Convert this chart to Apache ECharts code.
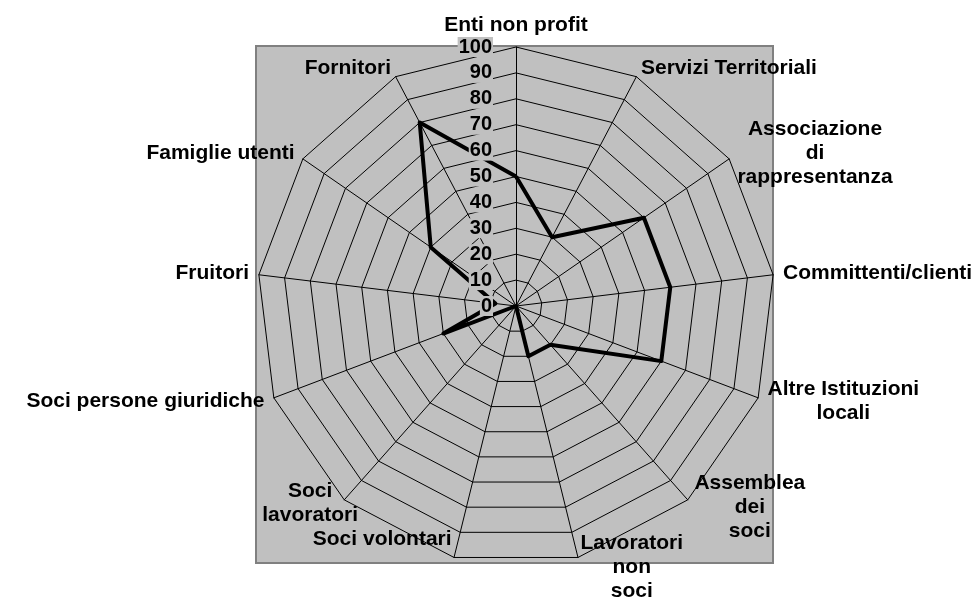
<!DOCTYPE html>
<html>
<head>
<meta charset="utf-8">
<script src="https://cdn.jsdelivr.net/npm/echarts@6/dist/echarts.min.js"></script>
<style>
html, body { margin: 0; padding: 0; background: #fff; }
#chart { width: 976px; height: 598px; }
</style>
</head>
<body>
<div id="chart"></div>
<script>
// stakeholder axes, clockwise from the top
var categories = [
  'Enti non profit', 'Servizi Territoriali', 'Associazione\ndi\nrappresentanza',
  'Committenti/clienti', 'Altre Istituzioni\nlocali', 'Assemblea\ndei\nsoci',
  'Lavoratori\nnon\nsoci', 'Soci volontari', 'Soci\nlavoratori',
  'Soci persone giuridiche', 'Fruitori', 'Famiglie utenti', 'Fornitori'
];
var values = [50, 30, 60, 60, 60, 20, 20, 0, 0, 30, 8, 40, 80];
var axisMin = 0;
var axisMax = 100;
var ringCount = 10;

var font = 'Liberation Sans';

// nudges for the two bottom-left names, which excel moved off the default spot
var nameTweaks = {
  'Soci volontari': { padding: [0, 0, 56, 0] },
  'Soci\nlavoratori': { align: 'center', padding: [0, 55, 8, 0] }
};

// echarts lays indicators out counter-clockwise, so keep the first
// and reverse the rest to get the clockwise order of the original
var order = [0];
for (var k = categories.length - 1; k > 0; k--) order.push(k);

var indicators = order.map(function (i, pos) {
  var name = categories[i];
  var ind = { name: name, min: axisMin, max: axisMax, axisLabel: { show: pos === 0 } };
  if (nameTweaks[name]) ind.nameTextStyle = nameTweaks[name];
  return ind;
});
var orderedValues = order.map(function (i) { return values[i]; });

var chart = echarts.init(document.getElementById('chart'));

chart.setOption({
  animation: false,
  graphic: [{
    type: 'rect',
    z: -100,
    silent: true,
    shape: { x: 256, y: 46, width: 517, height: 517 },
    style: { fill: '#c0c0c0', stroke: '#808080', lineWidth: 2 }
  }],
  radar: {
    z: 3,
    center: [516, 306],
    radius: 259,
    startAngle: 90,
    shape: 'polygon',
    splitNumber: ringCount,
    axisNameGap: 10,
    axisName: {
      color: '#000',
      fontFamily: font,
      fontSize: 21,
      fontWeight: 'bold',
      formatter: function (name) {
        return name.split('\n').map(function (s) { return '{c|' + s + '}'; }).join('\n');
      },
      rich: {
        c: { align: 'center', color: '#000', fontFamily: font, fontSize: 21, fontWeight: 'bold', lineHeight: 24 }
      }
    },
    axisLine: { lineStyle: { color: '#000', width: 1 } },
    splitLine: { lineStyle: { color: '#000', width: 1 } },
    splitArea: { show: false },
    axisTick: { show: false },
    axisLabel: {
      show: false,
      color: '#000',
      fontFamily: font,
      fontSize: 20,
      fontWeight: 'bold',
      backgroundColor: '#c0c0c0',
      padding: [0, 1],
      margin: 23
    },
    indicator: indicators
  },
  series: [{
    type: 'radar',
    symbol: 'none',
    lineStyle: { color: '#000', width: 4 },
    data: [{ value: orderedValues }]
  }]
});
</script>
</body>
</html>
